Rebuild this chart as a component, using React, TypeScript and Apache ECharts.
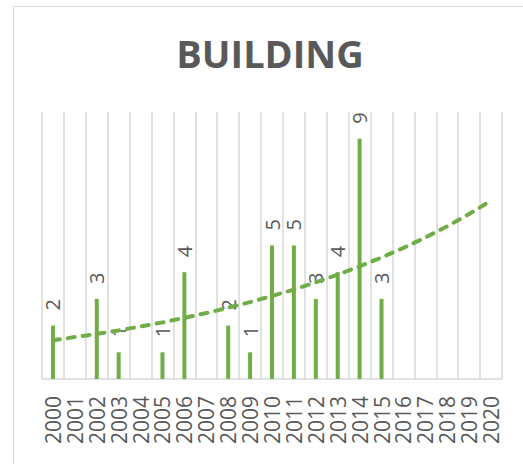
import React, { useEffect, useRef } from "react";
import * as echarts from "echarts";

const years = [
  "2000", "2001", "2002", "2003", "2004", "2005", "2006", "2007", "2008", "2009", "2010",
  "2011", "2012", "2013", "2014", "2015", "2016", "2017", "2018", "2019", "2020",
];
const counts: (number | null)[] = [
  2, null, 3, 1, null, 1, 4, null, 2, 1, 5,
  5, 3, 4, 9, 3, null, null, null, null, null,
];
const trend = [
  1.45, 1.57, 1.69, 1.82, 1.97, 2.12, 2.29, 2.47, 2.67, 2.88, 3.11,
  3.35, 3.62, 3.91, 4.22, 4.55, 4.91, 5.3, 5.72, 6.18, 6.68,
];
const title = "BUILDING";

const GREEN = "#70AD47";
const GRAY = "#595959";
const LINE = "#d9d9d9";

export default function App() {
  const ref = useRef<HTMLDivElement>(null);
  useEffect(() => {
    if (!ref.current) return;
    const chart = echarts.init(ref.current, null, { renderer: "svg" });
    chart.setOption({
      animation: false,
      backgroundColor: "#ffffff",
      grid: { left: 42, right: 21, top: 112, bottom: 85 },
      graphic: [
        {
          type: "rect",
          shape: { x: 13.5, y: 6.5, width: 700, height: 700 },
          style: { fill: "none", stroke: LINE, lineWidth: 1 },
          silent: true,
        },
        {
          type: "text",
          x: 270,
          y: 53,
          style: {
            text: title,
            fill: GRAY,
            font: "bold 38px 'Open Sans'",
            textAlign: "center",
            textVerticalAlign: "middle",
          },
        },
      ],
      xAxis: {
        type: "category",
        data: years,
        boundaryGap: true,
        axisLine: { show: true, lineStyle: { color: LINE, width: 1.5 } },
        axisTick: { show: false },
        splitLine: { show: true, interval: 0, lineStyle: { color: LINE, width: 1.5 } },
        axisLabel: {
          interval: 0,
          rotate: 90,
          margin: 17,
          color: GRAY,
          fontFamily: "Open Sans",
          fontSize: 21,
        },
      },
      yAxis: {
        type: "value",
        min: 0,
        max: 10,
        show: false,
        splitLine: { show: false },
      },
      series: [
        {
          type: "bar",
          data: counts,
          barWidth: 4,
          itemStyle: { color: GREEN },
          label: {
            show: true,
            position: "top",
            rotate: 90,
            align: "left",
            verticalAlign: "middle",
            distance: 15,
            color: GRAY,
            fontFamily: "Open Sans",
            fontSize: 20,
          },
          z: 2,
        },
        {
          type: "line",
          data: trend,
          symbol: "none",
          smooth: false,
          lineStyle: { color: GREEN, width: 4, type: [7, 8], cap: "round" },
          z: 3,
        },
      ],
    });
    return () => chart.dispose();
  }, []);
  return (
    <div
      ref={ref}
      style={{ position: "fixed", left: 0, top: 0, width: 523, height: 464, background: "#fff" }}
    />
  );
}
